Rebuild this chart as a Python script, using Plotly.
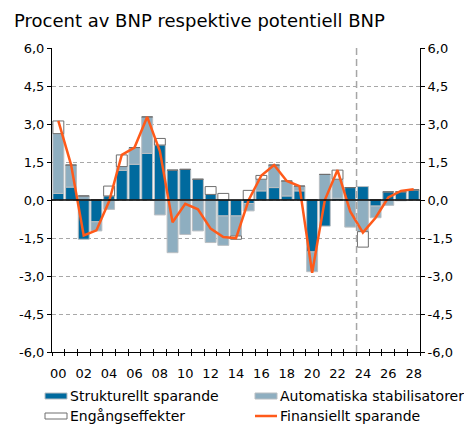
import plotly.graph_objects as go

# Sparande per år, procent av BNP respektive potentiell BNP
years = list(range(2000, 2029))

structural = [0.26, 0.51, -1.55, -0.86, 0.16, 1.17, 1.41, 1.84, 2.17, 1.18,
              1.21, 0.82, 0.22, -0.63, -0.63, -0.14, 0.36, 0.49, 0.16, 0.36,
              -2.05, -1.03, 0.07, 0.49, 0.53, -0.24, 0.32, 0.32, 0.40]

automatic = [2.36, 0.87, 0.16, -0.36, -0.37, 0.15, 0.66, 1.44, -0.59, -2.08,
             -1.36, -1.22, -1.68, -1.16, -0.79, -0.29, 0.46, 0.89, 0.59, 0.19,
             -0.78, 1.01, 0.75, -1.07, -1.25, -0.46, -0.21, -0.03, 0.00]

one_off = [0.50, 0.00, 0.00, 0.00, 0.39, 0.46, 0.00, 0.00, 0.26, 0.00,
           0.00, 0.00, 0.31, 0.26, -0.13, 0.38, 0.15, 0.00, 0.00, 0.00,
           0.00, 0.00, 0.36, 0.00, -0.61, 0.00, 0.00, 0.00, 0.00]

net_lending = [3.12, 1.40, -1.40, -1.20, -0.05, 1.78, 2.07, 3.28, 1.93, -0.88,
               -0.15, -0.37, -1.13, -1.46, -1.51, 0.00, 0.97, 1.38, 0.75, 0.55,
               -2.87, 0.00, 1.18, -0.45, -1.29, -0.70, 0.10, 0.36, 0.42]

y_ticks = [-6.0, -4.5, -3.0, -1.5, 0.0, 1.5, 3.0, 4.5, 6.0]
y_labels = [f"{v:.1f}".replace(".", ",") for v in y_ticks]
x_ticks = list(range(2000, 2029, 2))
x_labels = [f"{y % 100:02d}" for y in x_ticks]
forecast_start = 2023.5

DARK = "#006a9e"
LIGHT = "#8eaec0"
ORANGE = "#ff5a1a"
FONT = "DejaVu Sans"

W, H = 464, 425
ML, MR, MT, MB = 52, 44, 48, 73
PW, PH = W - ML - MR, H - MT - MB


def px(x):
    return (x - ML) / PW


def py(y):
    return (H - MB - y) / PH


fig = go.Figure()
fig.add_bar(x=years, y=structural, name="Strukturellt sparande",
            marker=dict(color=DARK, line=dict(color="#b9bec2", width=1)),
            width=0.86)
fig.add_bar(x=years, y=automatic, name="Automatiska stabilisatorer",
            marker=dict(color=LIGHT, line=dict(color="#b9bec2", width=1)),
            width=0.86)
fig.add_bar(x=years, y=one_off, name="Engångseffekter",
            marker=dict(color="white", line=dict(color="#6e6e6e", width=1)),
            width=0.86)
fig.add_scatter(x=years, y=net_lending, name="Finansiellt sparande",
                mode="lines", line=dict(color=ORANGE, width=2.5))
# carriers for the mirrored right axis and the inner tick marks
fig.add_scatter(x=[years[0]], y=[0], yaxis="y2", mode="markers",
                marker=dict(opacity=0), showlegend=False, hoverinfo="skip")
fig.add_scatter(x=[years[0]], y=[0], xaxis="x2", mode="markers",
                marker=dict(opacity=0), showlegend=False, hoverinfo="skip")

xrange = [1999.5, 2028.5]
fig.update_layout(
    width=W, height=H,
    margin=dict(l=ML, r=MR, t=MT, b=MB, pad=0),
    paper_bgcolor="white", plot_bgcolor="white",
    barmode="relative", showlegend=False,
    font=dict(family=FONT, size=13, color="black"),
    xaxis=dict(range=xrange, tickmode="array", tickvals=x_ticks, ticktext=x_labels,
               ticks="outside", ticklen=9, tickcolor="rgba(0,0,0,0)",
               showline=True, linecolor="black", linewidth=1,
               showgrid=False, zeroline=False,
               minor=dict(tickmode="linear", tick0=1999.5, dtick=1,
                          ticks="outside", ticklen=3, tickcolor="black",
                          tickwidth=1, showgrid=False),
               tickfont=dict(size=13)),
    xaxis2=dict(range=xrange, overlaying="x", anchor="y", tickmode="linear",
                tick0=1999.5, dtick=1, ticks="inside", ticklen=3,
                tickcolor="black", showticklabels=False, showgrid=False,
                zeroline=False, showline=False),
    yaxis=dict(range=[-6, 6], tickmode="array", tickvals=y_ticks, ticktext=y_labels,
               ticks="outside", ticklen=4, tickcolor="black",
               showline=True, linecolor="black", linewidth=1,
               showgrid=True, gridcolor="#a8a8a8", gridwidth=1, griddash="4px,3px",
               zeroline=False, tickfont=dict(size=13)),
    yaxis2=dict(range=[-6, 6], overlaying="y", side="right", anchor="x",
                tickmode="array", tickvals=y_ticks, ticktext=y_labels,
                ticks="outside", ticklen=4, tickcolor="black",
                showline=True, linecolor="black", linewidth=1,
                showgrid=False, zeroline=False, tickfont=dict(size=13)),
)

shapes = [
    dict(type="line", xref="paper", yref="y", x0=0, x1=1, y0=0, y1=0,
         line=dict(color="black", width=1.5), layer="above"),
    dict(type="line", xref="x", yref="paper", x0=forecast_start, x1=forecast_start,
         y0=0, y1=1, line=dict(color="#a6a6a6", width=1.5, dash="7px,4px"),
         layer="above"),
]

annotations = [
    dict(text="Procent av BNP respektive potentiell BNP", xref="paper", yref="paper",
         x=px(12), y=py(20), xanchor="left", yanchor="middle", showarrow=False,
         font=dict(family=FONT, size=18, color="black")),
]

legend_items = [
    (45, 396, "rect", DARK, "#b9bec2", "Strukturellt sparande"),
    (255, 396, "rect", LIGHT, "#b9bec2", "Automatiska stabilisatorer"),
    (45, 416, "rect", "white", "#6e6e6e", "Engångseffekter"),
    (255, 416, "line", ORANGE, ORANGE, "Finansiellt sparande"),
]
for x0, yc, kind, fill, edge, label in legend_items:
    if kind == "rect":
        shapes.append(dict(type="rect", xref="paper", yref="paper",
                           x0=px(x0), x1=px(x0 + 22), y0=py(yc - 3), y1=py(yc + 3),
                           fillcolor=fill, line=dict(color=edge, width=1)))
    else:
        shapes.append(dict(type="line", xref="paper", yref="paper",
                           x0=px(x0), x1=px(x0 + 22), y0=py(yc), y1=py(yc),
                           line=dict(color=fill, width=2.5)))
    annotations.append(dict(text=label, xref="paper", yref="paper",
                            x=px(x0 + 23), y=py(yc), xanchor="left", yanchor="middle",
                            showarrow=False, font=dict(family=FONT, size=14, color="black")))

fig.update_layout(shapes=shapes, annotations=annotations)
fig.write_html("out.html")
